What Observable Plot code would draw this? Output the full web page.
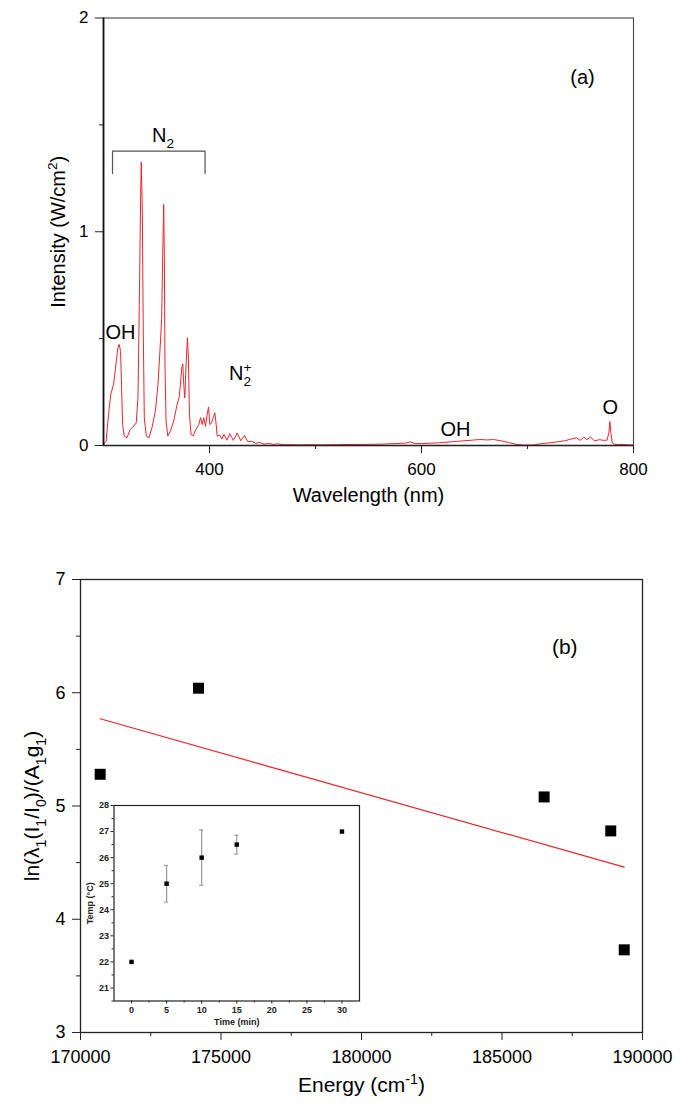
<!DOCTYPE html>
<html><head><meta charset="utf-8">
<script src="https://cdn.jsdelivr.net/npm/d3@7"></script>
<script src="https://cdn.jsdelivr.net/npm/@observablehq/plot@0.6"></script>
<style>
html,body{margin:0;padding:0;background:#fff;}
#wrap{position:relative;width:685px;height:1110px;overflow:hidden;background:#fff;}
#wrap svg{position:absolute;}
</style></head><body><div id="wrap"></div>
<script>
// ---------- Panel (a): emission spectrum ----------
const wavelength = [
  300,302.5,304.7,306.9,309.5,311.7,313.6,314.8,316.1,317,318,
  319.6,322.1,325.2,328.4,330.9,332.5,333.8,335,335.6,336.6,337.5,338.5,
  340.4,342.9,345.7,348.9,351.4,353.6,354.9,355.8,356.8,357.4,358,359,
  360.6,363.1,366.2,369.4,371.3,372.6,373.8,374.8,375.7,376.7,377.9,379.2,380.1,381.1,
  382.6,384.5,387.1,389.9,391.5,393.1,394.6,396.2,397.8,399.1,400.3,401.9,403.5,405,406.3,407.3,
  409.8,411.6,413.6,416.4,419.2,422.5,426.2,429.5,433.1,436,439.8,443.5,447.6,451.5,456,460,464.4,470,
  478,486,495,505,520,540,560,575,585,589.6,593,600,615,630,640,648,655,662,668,675,682,690,697,705,
  712,720,728,735,741,746,750,753,756,759.5,763,768,772,775,776.8,777.7,778.6,780,782,786,790,795,800
];
const intensity = [
  0.005,0.02,0.145,0.24,0.285,0.38,0.457,0.473,0.44,0.285,0.098,
  0.044,0.036,0.075,0.09,0.106,0.223,0.66,1.16,1.326,1.11,0.535,0.13,
  0.044,0.036,0.083,0.16,0.285,0.473,0.598,0.878,1.128,0.878,0.38,0.114,
  0.044,0.067,0.114,0.192,0.223,0.285,0.363,0.382,0.285,0.223,0.379,0.504,0.41,0.145,
  0.051,0.044,0.075,0.098,0.13,0.098,0.13,0.09,0.145,0.18,0.098,0.106,0.13,0.153,0.098,0.044,
  0.048,0.03,0.052,0.025,0.055,0.024,0.059,0.022,0.048,0.018,0.02,0.01,0.014,0.006,0.01,0.005,0.008,0.004,
  0.004,0.003,0.004,0.003,0.004,0.005,0.006,0.009,0.011,0.017,0.01,0.009,0.012,0.018,0.022,0.025,0.028,0.026,0.028,0.022,0.014,0.005,0.002,0.002,
  0.008,0.012,0.017,0.022,0.03,0.036,0.024,0.039,0.028,0.04,0.022,0.027,0.024,0.025,0.06,0.112,0.06,0.012,0.006,0.004,0.005,0.003,0.002
];
const xMajorA = [400, 600, 800];
const xMinorA = [500, 700];
const yMajorA = [0, 1, 2];
const yMinorA = [0.5, 1.5];
const bracketW = [308.5, 308.5, 395.8, 395.8];
const bracketV = [1.273, 1.377, 1.377, 1.273];
const annALabels = ["(a)", "N_2", "OH", "N_2^+", "OH", "O"];
const annAW = [751.9, 356.1, 316, 429, 632, 778];
const annAV = [1.722, 1.45, 0.529, 0.337, 0.075, 0.178];

// ---------- Panel (b): Boltzmann plot ----------
const energy = [170700, 174200, 186500, 188870, 189350];
const lnValue = [5.28, 6.04, 5.08, 4.78, 3.73];
const xMajorB = [170000, 175000, 180000, 185000, 190000];
const xMinorB = [172500, 177500, 182500, 187500];
const yMajorB = [3, 4, 5, 6, 7];
const yMinorB = [3.5, 4.5, 5.5, 6.5];
const annBLabels = ["(b)"];
const annBX = [187234];
const annBY = [6.4];

// ---------- Inset: temperature vs time ----------
const timeMin = [0, 5, 10, 15, 30];
const tempC = [22, 25, 26, 26.5, 27];
const tempErr = [0, 0.7, 1.06, 0.36, 0];
const xMajorC = [0, 5, 10, 15, 20, 25, 30];
const xMinorC = [2.5, 7.5, 12.5, 17.5, 22.5, 27.5];
const yMajorC = [21, 22, 23, 24, 25, 26, 27, 28];
const yMinorC = [20.5, 21.5, 22.5, 23.5, 24.5, 25.5, 26.5, 27.5];

const FONT = "'Liberation Sans', Arial, Helvetica, sans-serif";
const RED = "#e8262d";
const AX = "#222";
const intFmt = d3.format("d");
const mid = {textAnchor: "middle", lineAnchor: "middle"};

const spec = wavelength.map((w, i) => ({w, v: intensity[i]}));
const bracket = bracketW.map((w, i) => ({w, v: bracketV[i]}));
const annA = annALabels.map((label, i) => ({label, w: annAW[i], v: annAV[i]}));
const ptsB = energy.map((e, i) => ({e, v: lnValue[i]}));
const annB = annBLabels.map((label, i) => ({label, x: annBX[i], y: annBY[i]}));
const ptsC = timeMin.map((t, i) => ({t, temp: tempC[i], err: tempErr[i]}));
const errC = ptsC.filter(d => d.err > 0);

const pa = Plot.plot({
  width: 685, height: 510,
  marginLeft: 103, marginRight: 52, marginTop: 17.5, marginBottom: 65,
  x: {domain: [300, 800]}, y: {domain: [0, 2]},
  style: {fontFamily: FONT, fontSize: "17px", color: "#000", background: "transparent", overflow: "visible"},
  marks: [
    Plot.axisX({ticks: xMinorA, tickSize: 4, tickFormat: () => "", label: null, stroke: AX}),
    Plot.axisX({ticks: xMajorA, tickSize: 8, tickPadding: 9, tickFormat: intFmt, label: null, stroke: AX}),
    Plot.axisY({ticks: yMinorA, tickSize: 4, tickFormat: () => "", label: null, stroke: AX}),
    Plot.axisY({ticks: yMajorA, tickSize: 8, tickPadding: 7, tickFormat: intFmt, label: null, stroke: AX}),
    Plot.line(spec, {x: "w", y: "v", stroke: RED, strokeWidth: 1}),
    Plot.line(bracket, {x: "w", y: "v", stroke: "#555", strokeWidth: 1.2}),
    Plot.text(annA, {x: "w", y: "v", text: "label", fontSize: 20, ...mid}),
    Plot.frame({stroke: "#444", strokeWidth: 1.1}),
    Plot.ruleX([300], {stroke: "#111", strokeWidth: 1.8}),
    Plot.ruleY([0], {stroke: "#222", strokeWidth: 1.4}),
    Plot.text(["Wavelength (nm)"], {text: d => d, frameAnchor: "bottom", dy: 50, fontSize: 20, ...mid}),
    Plot.text(["Intensity (W/cm^2)"], {text: d => d, frameAnchor: "left", dx: -45, rotate: -90, fontSize: 20, ...mid})
  ]
});

const pb = Plot.plot({
  width: 685, height: 590,
  marginLeft: 80, marginRight: 43, marginTop: 59, marginBottom: 78,
  x: {domain: [170000, 190000]}, y: {domain: [3, 7]},
  style: {fontFamily: FONT, fontSize: "18px", color: "#000", background: "transparent", overflow: "visible"},
  marks: [
    Plot.axisX({ticks: xMinorB, tickSize: 4, tickFormat: () => "", label: null, stroke: AX}),
    Plot.axisX({ticks: xMajorB, tickSize: 8, tickPadding: 10, tickFormat: intFmt, label: null, stroke: AX}),
    Plot.axisY({ticks: yMinorB, tickSize: 4, tickFormat: () => "", label: null, stroke: AX}),
    Plot.axisY({ticks: yMajorB, tickSize: 8, tickPadding: 7, tickFormat: intFmt, label: null, stroke: AX}),
    Plot.linearRegressionY(ptsB, {x: "e", y: "v", stroke: RED, strokeWidth: 1.2, ci: 0}),
    Plot.dot(ptsB, {x: "e", y: "v", symbol: "square", r: 6.2, fill: "#000", stroke: "none"}),
    Plot.frame({stroke: AX, strokeWidth: 1.3}),
    Plot.text(annB, {x: "x", y: "y", text: "label", fontSize: 21, ...mid}),
    Plot.text(["Energy (cm^{-1})"], {text: d => d, frameAnchor: "bottom", dy: 53, fontSize: 21, ...mid}),
    Plot.text(["ln(λ_1(I_1/I_0)/(A_1g_1)"], {text: d => d, frameAnchor: "left", dx: -48, rotate: -90, fontSize: 21, ...mid})
  ]
});

const pc = Plot.plot({
  width: 300, height: 240,
  marginLeft: 43.5, marginRight: 11, marginTop: 15, marginBottom: 29.5,
  x: {domain: [-2.5, 32.5]}, y: {domain: [20.5, 28]},
  style: {fontFamily: FONT, fontSize: "9px", fontWeight: "bold", color: "#222", background: "transparent", overflow: "visible"},
  marks: [
    Plot.frame({fill: "white", stroke: "none"}),
    Plot.axisX({ticks: xMinorC, tickSize: 2, tickFormat: () => "", label: null}),
    Plot.axisX({ticks: xMajorC, tickSize: 3, tickPadding: 3, tickFormat: intFmt, label: null}),
    Plot.axisY({ticks: yMinorC, tickSize: 2, tickFormat: () => "", label: null}),
    Plot.axisY({ticks: yMajorC, tickSize: 3, tickPadding: 2, tickFormat: intFmt, label: null}),
    Plot.ruleX(errC, {x: "t", y1: d => d.temp - d.err, y2: d => d.temp + d.err, stroke: "#9a9a9a", strokeWidth: 1.2}),
    Plot.ruleY(errC, {y: d => d.temp - d.err, x1: d => d.t - 0.3, x2: d => d.t + 0.3, stroke: "#9a9a9a", strokeWidth: 1.2}),
    Plot.ruleY(errC, {y: d => d.temp + d.err, x1: d => d.t - 0.3, x2: d => d.t + 0.3, stroke: "#9a9a9a", strokeWidth: 1.2}),
    Plot.dot(ptsC, {x: "t", y: "temp", symbol: "square", r: 2.5, fill: "#000", stroke: "none"}),
    Plot.frame({stroke: "#222", strokeWidth: 1.2}),
    Plot.text(["Time (min)"], {text: d => d, frameAnchor: "bottom", dy: 21.5, fontSize: 9, fontWeight: "bold", ...mid}),
    Plot.text(["Temp (°C)"], {text: d => d, frameAnchor: "left", dx: -23.5, rotate: -90, fontSize: 9, fontWeight: "bold", ...mid})
  ]
});

const wrap = document.getElementById("wrap");
function place(svg, left, top) {
  svg.style.left = left + "px";
  svg.style.top = top + "px";
  svg.style.maxWidth = "none";
  wrap.appendChild(svg);
}
place(pa, 0, 0);
place(pb, 0, 520);
place(pc, 70, 790);

// sub/superscript markup: _x, ^x, _{..}, ^{..}
function rich(svg) {
  d3.select(svg).selectAll("text").each(function () {
    const el = this;
    if (el.querySelector("tspan")) return;
    const s = el.textContent;
    if (!/[_^]/.test(s)) return;
    const fs = parseFloat(getComputedStyle(el).fontSize) || 16;
    const tokens = [];
    let i = 0;
    while (i < s.length) {
      const c = s[i];
      if ((c === "_" || c === "^") && i + 1 < s.length) {
        let txt;
        if (s[i + 1] === "{") { const k = s.indexOf("}", i + 1); txt = s.slice(i + 2, k); i = k + 1; }
        else { txt = s[i + 1]; i += 2; }
        tokens.push({type: c, txt});
      } else {
        let j = i;
        while (j < s.length && s[j] !== "_" && s[j] !== "^") j++;
        tokens.push({type: "n", txt: s.slice(i, j)});
        i = j;
      }
    }
    el.textContent = "";
    let cur = 0;
    tokens.forEach((t, idx) => {
      const ts = document.createElementNS("http://www.w3.org/2000/svg", "tspan");
      const target = t.type === "_" ? 0.3 * fs : t.type === "^" ? -0.4 * fs : 0;
      ts.setAttribute("dy", (target - cur).toFixed(2));
      cur = target;
      ts.setAttribute("font-size", t.type === "n" ? fs : (0.68 * fs).toFixed(2));
      if (t.type === "^" && idx > 0 && tokens[idx - 1].type === "_") {
        ts.setAttribute("dx", (-0.56 * 0.68 * fs * tokens[idx - 1].txt.length).toFixed(2));
      }
      ts.textContent = t.txt;
      el.appendChild(ts);
    });
  });
}
[pa, pb, pc].forEach(rich);
</script>
</body></html>
